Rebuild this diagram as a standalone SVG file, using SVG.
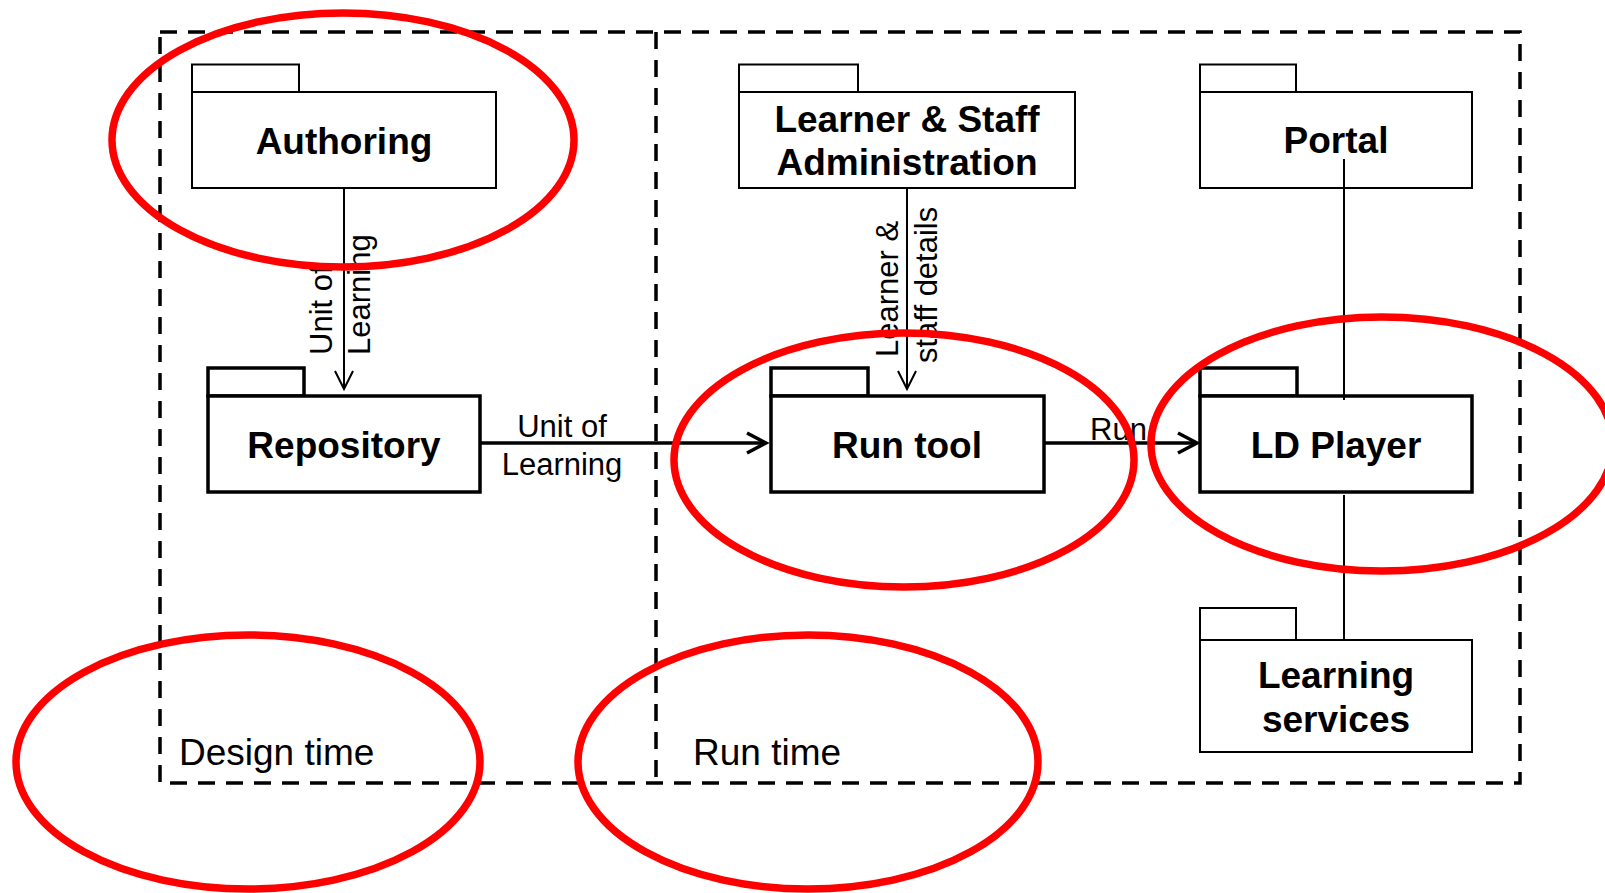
<svg xmlns="http://www.w3.org/2000/svg" width="1605" height="893" viewBox="0 0 1605 893">
<style>
.bg{fill:#ffffff}
.frame{fill:none;stroke:#000;stroke-width:3.5;stroke-dasharray:17 11}
.thin{fill:#fff;stroke:#000;stroke-width:2}
.thick{fill:#fff;stroke:#000;stroke-width:3.5}
.title{font-family:"Liberation Sans",Arial,sans-serif;font-weight:bold;font-size:37px;text-anchor:middle;fill:#000}
.lbl{font-family:"Liberation Sans",Arial,sans-serif;font-size:31px;fill:#000}
.zone{font-family:"Liberation Sans",Arial,sans-serif;font-size:37px;fill:#000}
.cthin{fill:none;stroke:#000;stroke-width:2}
.cthick{fill:none;stroke:#000;stroke-width:3.5}
.mark{fill:none;stroke:#ff0000;stroke-width:7.5}
</style>
<defs>
<marker id="openThin" markerUnits="userSpaceOnUse" viewBox="-22 -12 24 24" refX="0" refY="0" markerWidth="24" markerHeight="24" orient="auto" overflow="visible">
<path d="M-18,-9 L0,0 L-18,9" fill="none" stroke="#000" stroke-width="2"/>
</marker>
<marker id="openThick" markerUnits="userSpaceOnUse" viewBox="-24 -13 26 26" refX="0" refY="0" markerWidth="26" markerHeight="26" orient="auto" overflow="visible">
<path d="M-19,-10 L0,0 L-19,10" fill="none" stroke="#000" stroke-width="3.5"/>
</marker>
</defs>
<rect class="bg" x="0" y="0" width="1605" height="893"/>

<g id="frames">
<path class="frame" d="M160,32 H1520 V783 H160 Z"/>
<line class="frame" x1="656" y1="32" x2="656" y2="783"/>
<text class="zone" x="179" y="765">Design time</text>
<text class="zone" x="693" y="765">Run time</text>
</g>

<g id="authoring">
<rect class="thin" x="192" y="64.5" width="107" height="27.5"/>
<rect class="thin" x="192" y="92" width="304" height="96"/>
<text class="title" x="344" y="154">Authoring</text>
</g>
<g id="repository">
<rect class="thick" x="208" y="368" width="96" height="28"/>
<rect class="thick" x="208" y="396" width="272" height="96"/>
<text class="title" x="344" y="458">Repository</text>
</g>
<g id="learner-staff-admin">
<rect class="thin" x="739" y="64.5" width="119" height="27.5"/>
<rect class="thin" x="739" y="92" width="336" height="96"/>
<text class="title" x="907" y="132">Learner &amp; Staff</text>
<text class="title" x="907" y="175">Administration</text>
</g>
<g id="portal">
<rect class="thin" x="1200" y="64.5" width="96" height="27.5"/>
<rect class="thin" x="1200" y="92" width="272" height="96"/>
<text class="title" x="1336" y="153">Portal</text>
</g>
<g id="run-tool">
<rect class="thick" x="771" y="368" width="97" height="28"/>
<rect class="thick" x="771" y="396" width="273" height="96"/>
<text class="title" x="907" y="458">Run tool</text>
</g>
<g id="ld-player">
<rect class="thick" x="1200" y="368" width="97" height="28"/>
<rect class="thick" x="1200" y="396" width="272" height="96"/>
<text class="title" x="1336" y="458">LD Player</text>
</g>
<g id="learning-services">
<rect class="thin" x="1200" y="608" width="96" height="32"/>
<rect class="thin" x="1200" y="640" width="272" height="112"/>
<text class="title" x="1336" y="688">Learning</text>
<text class="title" x="1336" y="732">services</text>
</g>

<g id="connectors">
<line class="cthin" x1="344" y1="188" x2="344" y2="389" marker-end="url(#openThin)"/>
<text class="lbl" transform="translate(332,355) rotate(-90)">Unit of</text>
<text class="lbl" transform="translate(370,355) rotate(-90)">Learning</text>
<line class="cthin" x1="907" y1="188" x2="907" y2="389" marker-end="url(#openThin)"/>
<text class="lbl" transform="translate(898,357) rotate(-90)">Learner &amp;</text>
<text class="lbl" transform="translate(937,363) rotate(-90)">staff details</text>
<line class="cthick" x1="480" y1="443" x2="766" y2="443" marker-end="url(#openThick)"/>
<text class="lbl" x="562" y="437" text-anchor="middle">Unit of</text>
<text class="lbl" x="562" y="475" text-anchor="middle">Learning</text>
<line class="cthick" x1="1044" y1="443" x2="1197" y2="443" marker-end="url(#openThick)"/>
<text class="lbl" x="1090" y="440">Run</text>
<line class="cthin" x1="1344" y1="159" x2="1344" y2="400"/>
<line class="cthin" x1="1344" y1="495" x2="1344" y2="640"/>
</g>

<g id="highlights">
<ellipse class="mark" cx="343" cy="140" rx="231" ry="127"/>
<ellipse class="mark" cx="904" cy="460" rx="230" ry="127"/>
<ellipse class="mark" cx="1382" cy="444" rx="231" ry="127"/>
<ellipse class="mark" cx="248" cy="762" rx="232" ry="127"/>
<ellipse class="mark" cx="808" cy="762" rx="230" ry="127"/>
</g>
</svg>
